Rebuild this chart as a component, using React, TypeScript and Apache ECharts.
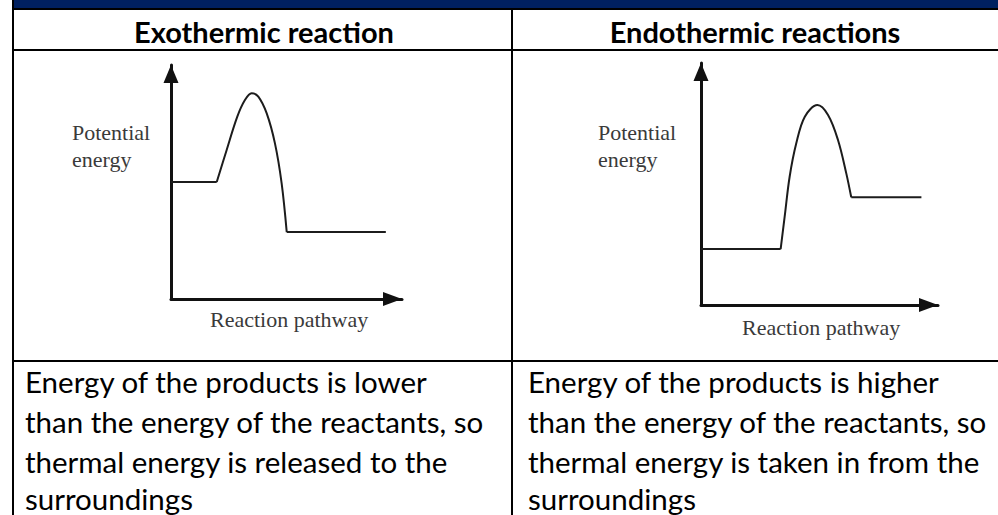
import React, { useEffect, useRef } from "react";
import * as echarts from "echarts";

// Table texts
const headers = ["Exothermic reaction", "Endothermic reactions"];
const exoText = [
  "Energy of the products is lower",
  "than the energy of the reactants, so",
  "thermal energy is released to the",
  "surroundings",
];
const endoText = [
  "Energy of the products is higher",
  "than the energy of the reactants, so",
  "thermal energy is taken in from the",
  "surroundings",
];
const yAxisLabel = ["Potential", "energy"];
const xAxisLabel = "Reaction pathway";

// Exothermic profile (arbitrary units, 0-100)
const exoReactants: [number, number][] = [[0, 50], [19.8, 50]];
const exoHump: [number, number][] = [
  [19.8, 50], [24.1, 63.7], [28.7, 77.9], [32.0, 85.0], [34.9, 87.9],
  [37.8, 86.5], [41.4, 79.4], [45.0, 66.5], [47.9, 49.4], [50.1, 28.6],
];
const exoProducts: [number, number][] = [[50.1, 28.6], [93, 28.6]];

// Endothermic profile (arbitrary units, 0-100)
const endoReactants: [number, number][] = [[0, 23.1], [33.6, 23.1]];
const endoHump: [number, number][] = [
  [33.6, 23.1], [35.3, 36.5], [37.4, 53.0], [40.2, 66.8], [43.8, 77.8],
  [49.1, 82.6], [53.6, 78.5], [57.8, 68.2], [61.3, 54.4], [63.4, 44.5],
];
const endoProducts: [number, number][] = [[63.4, 44.5], [93, 44.5]];

const NAVY = "#002060";
const BODY_FONT = "Lato, 'Noto Sans', sans-serif";
const SERIF = "'Liberation Serif', 'DejaVu Serif', serif";

export default function App() {
  const ref = useRef<HTMLDivElement>(null);
  useEffect(() => {
    document.body.style.margin = "0";
    if (!ref.current) return;
    const chart = echarts.init(ref.current, undefined, { renderer: "svg" });

    const axisCommon = (size: [number, number]) => ({
      type: "value" as const,
      min: 0,
      max: 100,
      axisLine: {
        show: true,
        symbol: ["none", "triangle"],
        symbolSize: size,
        symbolOffset: [0, -size[1] / 2],
        lineStyle: { color: "#111", width: 3 },
      },
      axisTick: { show: false },
      axisLabel: { show: false },
      splitLine: { show: false },
    });

    const lineSeries = (data: [number, number][], idx: number, smooth: boolean) => ({
      type: "line" as const,
      xAxisIndex: idx,
      yAxisIndex: idx,
      data,
      smooth: smooth ? 0.35 : false,
      showSymbol: false,
      symbol: "none",
      lineStyle: { color: "#1c1c1c", width: 2 },
      silent: true,
    });

    const bodyLineYs = [381, 421, 461, 498];
    const texts: any[] = [];
    headers.forEach((h, i) => {
      texts.push({
        type: "text",
        x: i === 0 ? 264 : 755,
        y: 31,
        style: { text: h, font: `bold 29px ${BODY_FONT}`, fill: "#000", align: "center", verticalAlign: "middle" },
      });
    });
    exoText.forEach((t, i) => {
      texts.push({
        type: "text",
        x: 25,
        y: bodyLineYs[i],
        style: { text: t, font: `29.5px ${BODY_FONT}`, fill: "#000", align: "left", verticalAlign: "middle" },
      });
    });
    endoText.forEach((t, i) => {
      texts.push({
        type: "text",
        x: 528,
        y: bodyLineYs[i],
        style: { text: t, font: `29.5px ${BODY_FONT}`, fill: "#000", align: "left", verticalAlign: "middle" },
      });
    });
    const labelPos = [
      { px: 72, py: [132, 159], rx: 210, ry: 319 },
      { px: 598, py: [132, 159], rx: 742, ry: 327 },
    ];
    labelPos.forEach((p) => {
      yAxisLabel.forEach((t, i) => {
        texts.push({
          type: "text",
          x: p.px,
          y: p.py[i],
          style: { text: t, font: `22px ${SERIF}`, fill: "#3a3a3a", align: "left", verticalAlign: "middle" },
        });
      });
      texts.push({
        type: "text",
        x: p.rx,
        y: p.ry,
        style: { text: xAxisLabel, font: `22px ${SERIF}`, fill: "#3a3a3a", align: "left", verticalAlign: "middle" },
      });
    });

    const lines: any[] = [
      { type: "rect", shape: { x: 14, y: 0, width: 984, height: 8 }, style: { fill: NAVY } },
      { type: "rect", shape: { x: 12, y: 8, width: 986, height: 2 }, style: { fill: "#000" } },
      { type: "rect", shape: { x: 12, y: 0, width: 2, height: 515 }, style: { fill: "#000" } },
      { type: "rect", shape: { x: 511, y: 8, width: 2, height: 507 }, style: { fill: "#000" } },
      { type: "rect", shape: { x: 12, y: 49, width: 986, height: 2 }, style: { fill: "#000" } },
      { type: "rect", shape: { x: 12, y: 360, width: 986, height: 2 }, style: { fill: "#000" } },
    ];

    chart.setOption({
      animation: false,
      backgroundColor: "#fff",
      grid: [
        { left: 171, top: 65, width: 231, height: 234 },
        { left: 701, top: 63, width: 237, height: 242 },
      ],
      xAxis: [
        { ...axisCommon([14, 19]), gridIndex: 0 },
        { ...axisCommon([14, 19]), gridIndex: 1 },
      ],
      yAxis: [
        { ...axisCommon([15, 18]), gridIndex: 0 },
        { ...axisCommon([15, 18]), gridIndex: 1 },
      ],
      series: [
        lineSeries(exoReactants, 0, false),
        lineSeries(exoHump, 0, true),
        lineSeries(exoProducts, 0, false),
        lineSeries(endoReactants, 1, false),
        lineSeries(endoHump, 1, true),
        lineSeries(endoProducts, 1, false),
      ],
      graphic: [...lines, ...texts],
    });
    return () => chart.dispose();
  }, []);
  return <div ref={ref} style={{ width: 998, height: 515 }} />;
}
